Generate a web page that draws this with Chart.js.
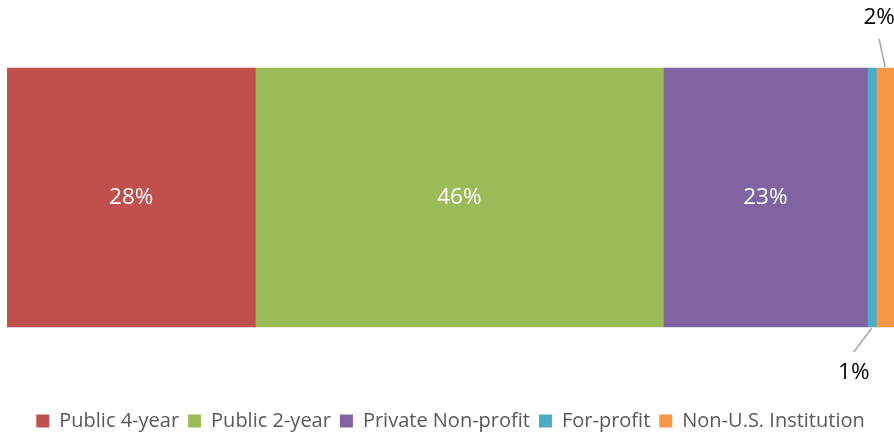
<!DOCTYPE html>
<html>
<head>
<meta charset="utf-8">
<script src="https://cdn.jsdelivr.net/npm/chart.js@4"></script>
<style>
  html, body { margin: 0; padding: 0; background: #ffffff; }
  #wrap { width: 894px; height: 437px; position: relative; }
</style>
</head>
<body>
<div id="wrap"><canvas id="c"></canvas></div>
<script>
const categories = ['Public 4-year', 'Public 2-year', 'Private Non-profit', 'For-profit', 'Non-U.S. Institution'];
const values = [28, 46, 23, 1, 2];
const valueLabels = ['28%', '46%', '23%', '1%', '2%'];
const colors = ['#C0504D', '#9BBB59', '#8064A2', '#4BACC6', '#F79646'];

const FONT = "'Open Sans', 'DejaVu Sans', sans-serif";

const datasets = categories.map((name, i) => ({
  label: name,
  data: [values[i]],
  backgroundColor: colors[i],
  borderWidth: 0,
  barThickness: 259
}));

const labelPlugin = {
  id: 'segLabels',
  afterDatasetsDraw(chart) {
    const ctx = chart.ctx;
    ctx.save();
    ctx.font = "22.5px " + FONT;
    ctx.textAlign = 'center';
    ctx.textBaseline = 'middle';
    chart.data.datasets.forEach((ds, i) => {
      const bar = chart.getDatasetMeta(i).data[0];
      const p = bar.getProps(['x', 'y', 'base', 'height'], true);
      const cx = (p.x + p.base) / 2;
      const top = p.y - p.height / 2;
      const bottom = p.y + p.height / 2;
      if (i < 3) {
        ctx.fillStyle = '#FFFFFF';
        ctx.fillText(valueLabels[i], cx, p.y);
      } else if (i === 3) {
        ctx.strokeStyle = '#A6A6A6';
        ctx.lineWidth = 1.5;
        ctx.beginPath();
        ctx.moveTo(cx, bottom + 1);
        ctx.lineTo(cx - 18, bottom + 25);
        ctx.stroke();
        ctx.fillStyle = '#000000';
        ctx.fillText(valueLabels[i], cx - 18, bottom + 46);
      } else {
        ctx.strokeStyle = '#A6A6A6';
        ctx.lineWidth = 1.5;
        ctx.beginPath();
        ctx.moveTo(cx, top - 1);
        ctx.lineTo(cx - 6, top - 29);
        ctx.stroke();
        ctx.fillStyle = '#000000';
        ctx.fillText(valueLabels[i], cx - 6, top - 50);
      }
    });
    ctx.restore();
  }
};

new Chart(document.getElementById('c'), {
  type: 'bar',
  data: { labels: [''], datasets },
  options: {
    indexAxis: 'y',
    responsive: true,
    maintainAspectRatio: false,
    animation: false,
    layout: { padding: { left: 7, right: 0, top: 0, bottom: -4 } },
    scales: {
      x: {
        stacked: true, min: 0, max: 100, display: true,
        grid: { display: false }, border: { display: false },
        ticks: { display: false },
        afterFit(s) { s.height = 7; }
      },
      y: { stacked: true, display: false }
    },
    plugins: {
      tooltip: { enabled: false },
      legend: {
        position: 'bottom',
        labels: {
          boxWidth: 13,
          boxHeight: 13,
          padding: 9,
          color: '#595959',
          font: { family: FONT, size: 20 }
        }
      }
    }
  },
  plugins: [labelPlugin]
});
</script>
</body>
</html>
